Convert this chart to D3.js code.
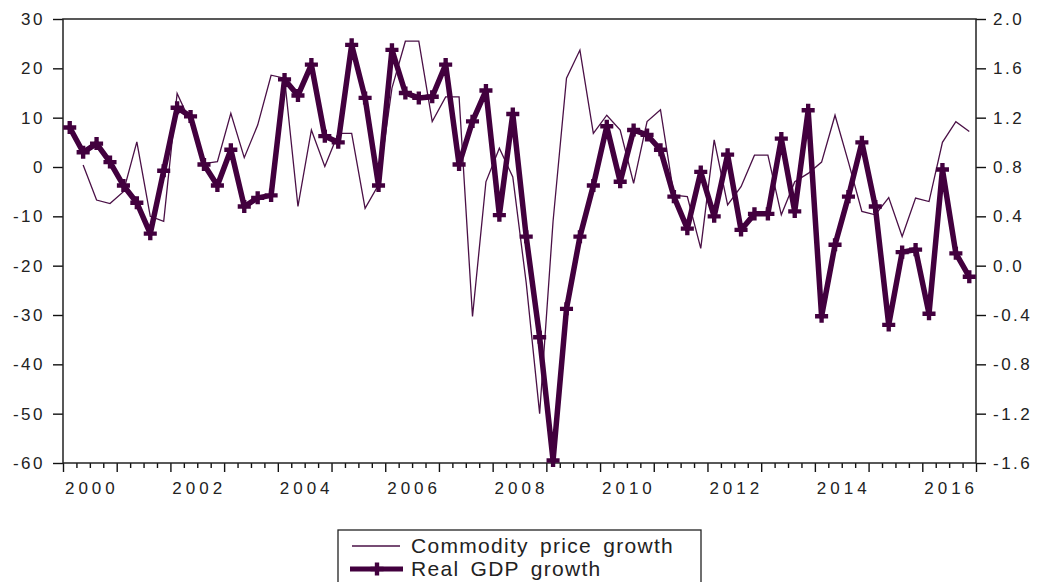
<!DOCTYPE html>
<html>
<head>
<meta charset="utf-8">
<script src="https://cdn.jsdelivr.net/npm/d3@7"></script>
<style>
  body { margin: 0; background: #fff; }
  text { font-family: "Liberation Sans", Arial, sans-serif; fill: #222; }
</style>
</head>
<body>
<div id="chart"></div>
<script>
// quarterly periods 2000Q1 .. 2016Q4
const periods = d3.range(2000, 2017).flatMap(y => [1, 2, 3, 4].map(q => `${y}Q${q}`));

// commodity price growth, % (left axis); first quarter has no value
const commodityGrowth = [
  null, 0.4, -6.7, -7.4, -5.0, 5.1, -10, -11,
  14.9, 9, 0.7, 1.1, 10.9, 1.9, 8.5, 18.6,
  18, -8, 7.5, 0.1, 6.8, 6.8, -8.4, -3.6,
  16, 25.5, 25.5, 9.2, 14.2, 14.2, -30.3, -3.0,
  3.8, -2, -23.5, -50, -11, 18, 23.7, 6.8,
  10.5, 7.5, -3.3, 9.2, 11.6, -5.7, -6.0, -16.5,
  5.5, -7.7, -4, 2.4, 2.4, -9.7, -3, -1.3,
  1, 10.5, 1, -9, -9.7, -6.2, -14.1, -6.3,
  -7.0, 5, 9.2, 7.2
];

// real GDP growth, % (right axis)
const gdpGrowth = [
  1.12, 0.92, 0.99, 0.84, 0.65, 0.51, 0.26, 0.77,
  1.28, 1.21, 0.82, 0.65, 0.94, 0.48, 0.55, 0.57,
  1.51, 1.38, 1.63, 1.05, 1.00, 1.79, 1.36, 0.65,
  1.75, 1.40, 1.36, 1.37, 1.63, 0.82, 1.17, 1.42,
  0.41, 1.23, 0.235, -0.58, -1.58, -0.35, 0.235, 0.65,
  1.13, 0.68, 1.10, 1.06, 0.94, 0.56, 0.30, 0.76,
  0.40, 0.90, 0.29, 0.42, 0.42, 1.03, 0.44, 1.26,
  -0.41, 0.17, 0.56, 1.00, 0.48, -0.48, 0.11, 0.13,
  -0.39, 0.78, 0.10, -0.09
];

const leftTicks = [30, 20, 10, 0, -10, -20, -30, -40, -50, -60];
const rightTicks = [2.0, 1.6, 1.2, 0.8, 0.4, 0.0, -0.4, -0.8, -1.2, -1.6];
const yearLabels = [2000, 2002, 2004, 2006, 2008, 2010, 2012, 2014, 2016];
const legendItems = ['Commodity price growth', 'Real GDP growth'];

const width = 1040;
const height = 582;
const margin = { top: 19, right: 64, bottom: 119, left: 63 };
const thinColor = '#4a1046';
const thickColor = '#42003e';

// position of a quarter: middle of the quarter
const periodX = (p) => +p.slice(0, 4) + (+p.slice(5) - 0.5) / 4;
// plain hyphen for negatives, like the original
const hyphen = (fmt) => (d) => fmt(d).replace('\u2212', '-');

const svg = d3.select('#chart')
  .append('svg')
  .attr('width', width)
  .attr('height', height);

const x = d3.scaleLinear()
  .domain([2000, 2017])
  .range([margin.left, width - margin.right]);
const yL = d3.scaleLinear()
  .domain([-60, 30])
  .range([height - margin.bottom, margin.top]);
const yR = d3.scaleLinear()
  .domain([-1.6, 2.0])
  .range([height - margin.bottom, margin.top]);

// left axis
const leftAxis = svg.append('g')
  .attr('transform', `translate(${margin.left},0)`)
  .call(d3.axisLeft(yL).tickValues(leftTicks).tickSize(10).tickPadding(8)
    .tickFormat(hyphen(d3.format('d'))));
// right axis
const rightAxis = svg.append('g')
  .attr('transform', `translate(${width - margin.right},0)`)
  .call(d3.axisRight(yR).tickValues(rightTicks).tickSize(10).tickPadding(7)
    .tickFormat(hyphen(d3.format('.1f'))));
// bottom axis: quarter ticks, longer at each year
const quarterTicks = d3.range(0, 69).map(i => 2000 + i / 4);
const bottomAxis = svg.append('g')
  .attr('transform', `translate(0,${height - margin.bottom})`)
  .call(d3.axisBottom(x).tickValues(quarterTicks).tickFormat(''));
bottomAxis.selectAll('.tick line')
  .attr('y2', (d) => (Math.abs(d - Math.round(d)) < 1e-6 ? 9 : 5));

[leftAxis, rightAxis, bottomAxis].forEach(g => {
  g.select('.domain').remove();
  g.selectAll('.tick line').attr('stroke', '#111').attr('stroke-width', 1.4);
  g.selectAll('text')
    .attr('font-size', 17)
    .attr('letter-spacing', 2.5)
    .style('fill', '#222');
});

svg.append('g')
  .selectAll('text')
  .data(yearLabels)
  .enter()
  .append('text')
  .attr('x', d => x(d + 0.5) + 2)
  .attr('y', height - margin.bottom + 31)
  .attr('text-anchor', 'middle')
  .attr('font-size', 17)
  .attr('letter-spacing', 4)
  .text(d => d);

// plot frame
svg.append('rect')
  .attr('x', margin.left)
  .attr('y', margin.top)
  .attr('width', width - margin.left - margin.right)
  .attr('height', height - margin.top - margin.bottom)
  .attr('fill', 'none')
  .attr('stroke', '#222')
  .attr('stroke-width', 1.5);

// commodity price growth (thin)
const thinLine = d3.line()
  .defined(d => d.v != null)
  .x(d => x(periodX(d.p)))
  .y(d => yL(d.v));
svg.append('path')
  .datum(periods.map((p, i) => ({ p, v: commodityGrowth[i] })))
  .attr('d', thinLine)
  .attr('fill', 'none')
  .attr('stroke', thinColor)
  .attr('stroke-width', 1.3);

// real GDP growth (thick with crosses)
const gdpData = periods.map((p, i) => ({ p, v: gdpGrowth[i] }));
const thickLine = d3.line()
  .x(d => x(periodX(d.p)))
  .y(d => yR(d.v));
svg.append('path')
  .datum(gdpData)
  .attr('d', thickLine)
  .attr('fill', 'none')
  .attr('stroke', thickColor)
  .attr('stroke-width', 5.5)
  .attr('stroke-linejoin', 'round');

const cross = d3.symbol().type(d3.symbolCross).size(95);
svg.append('g')
  .selectAll('path')
  .data(gdpData)
  .enter()
  .append('path')
  .attr('d', cross)
  .attr('transform', d => `translate(${x(periodX(d.p))},${yR(d.v)})`)
  .attr('fill', thickColor);

// legend
const legend = svg.append('g').attr('transform', 'translate(338,530)');
legend.append('rect')
  .attr('width', 363)
  .attr('height', 60)
  .attr('fill', '#fff')
  .attr('stroke', '#222')
  .attr('stroke-width', 1.3);
legend.append('line')
  .attr('x1', 14).attr('x2', 62)
  .attr('y1', 16).attr('y2', 16)
  .attr('stroke', thinColor)
  .attr('stroke-width', 1.3);
legend.append('line')
  .attr('x1', 12).attr('x2', 65)
  .attr('y1', 39).attr('y2', 39)
  .attr('stroke', thickColor)
  .attr('stroke-width', 5);
legend.append('path')
  .attr('d', cross)
  .attr('transform', 'translate(39,39)')
  .attr('fill', thickColor);
legend.selectAll('text.item')
  .data(legendItems)
  .enter()
  .append('text')
  .attr('class', 'item')
  .attr('x', 73)
  .attr('y', (d, i) => 23 + i * 23)
  .attr('font-size', 21)
  .attr('letter-spacing', 1.3)
  .attr('word-spacing', 4)
  .text(d => d);
</script>
</body>
</html>
